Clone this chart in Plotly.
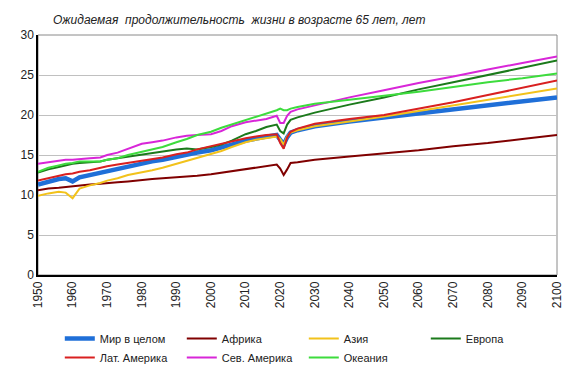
import plotly.graph_objects as go

years = [1950, 1953, 1956, 1958, 1960, 1962, 1965, 1968, 1970, 1973,
         1976, 1980, 1983, 1986, 1990, 1993, 1996, 2000, 2003, 2006,
         2010, 2013, 2016, 2019, 2020, 2021, 2022, 2023, 2025, 2030,
         2040, 2050, 2060, 2070, 2080, 2090, 2100]

world = [11.3, 11.7, 12.0, 12.1, 11.7, 12.2, 12.5, 12.8, 13.0, 13.3,
         13.6, 13.9, 14.2, 14.4, 14.8, 15.0, 15.3, 15.6, 15.9, 16.3,
         16.8, 17.1, 17.3, 17.5, 17.0, 16.3, 17.2, 17.8, 18.1, 18.6,
         19.2, 19.7, 20.2, 20.7, 21.2, 21.7, 22.2]

africa = [10.6, 10.8, 10.9, 11.0, 11.1, 11.2, 11.3, 11.4, 11.5, 11.6,
          11.7, 11.9, 12.0, 12.1, 12.2, 12.3, 12.4, 12.6, 12.8, 13.0,
          13.2, 13.4, 13.6, 13.8, 13.3, 12.5, 13.2, 14.0, 14.1, 14.4,
          14.8, 15.2, 15.6, 16.1, 16.5, 17.0, 17.5]

asia = [9.9, 10.2, 10.4, 10.3, 9.6, 10.8, 11.2, 11.5, 11.8, 12.1,
        12.5, 12.8, 13.1, 13.4, 13.9, 14.2, 14.6, 15.1, 15.5, 16.0,
        16.6, 16.9, 17.1, 17.3, 17.0, 16.3, 17.3, 17.8, 18.1, 18.6,
        19.2, 19.8, 20.5, 21.2, 21.9, 22.6, 23.3]

europe = [12.8, 13.2, 13.5, 13.7, 13.9, 14.0, 14.1, 14.2, 14.4, 14.6,
          14.8, 15.0, 15.2, 15.4, 15.7, 15.8, 15.7, 16.0, 16.3, 16.8,
          17.6, 18.0, 18.5, 18.8, 18.0, 17.7, 18.8, 19.4, 19.7, 20.3,
          21.3, 22.2, 23.2, 24.1, 25.0, 25.9, 26.8]

latam = [11.8, 12.1, 12.4, 12.6, 12.7, 12.9, 13.1, 13.4, 13.6, 13.8,
         14.0, 14.3, 14.5, 14.7, 15.1, 15.3, 15.7, 16.1, 16.4, 16.7,
         17.1, 17.3, 17.5, 17.6, 16.5, 15.8, 17.2, 17.9, 18.3, 18.9,
         19.5, 20.0, 20.8, 21.6, 22.5, 23.4, 24.3]

namerica = [13.9, 14.1, 14.3, 14.4, 14.4, 14.5, 14.6, 14.7, 15.0, 15.3,
            15.8, 16.4, 16.6, 16.8, 17.2, 17.4, 17.5, 17.6, 18.0, 18.6,
            19.1, 19.3, 19.5, 19.9, 19.0, 19.0, 19.9, 20.4, 20.7, 21.2,
            22.2, 23.1, 24.0, 24.8, 25.7, 26.5, 27.3]

oceania = [12.9, 13.4, 13.7, 13.9, 14.0, 14.2, 14.2, 14.2, 14.4, 14.6,
           15.0, 15.4, 15.7, 16.0, 16.6, 17.0, 17.5, 17.9, 18.4, 18.8,
           19.4, 19.8, 20.2, 20.6, 20.8, 20.6, 20.6, 20.8, 21.0, 21.4,
           21.9, 22.4, 22.9, 23.5, 24.1, 24.6, 25.2]

names = ["Мир в целом", "Африка", "Азия", "Европа",
         "Лат. Америка", "Сев. Америка", "Океания"]
series = [world, africa, asia, europe, latam, namerica, oceania]
colors = ["#1f6fd8", "#800000", "#f2c21b", "#1b7a1b",
          "#d92020", "#d826d8", "#3ddc3d"]
widths = [4.5, 2, 2, 2, 2, 2, 2]

x_ticks = list(range(1950, 2101, 10))
y_ticks = [0, 5, 10, 15, 20, 25, 30]

title_text = "Ожидаемая  продолжительность  жизни в возрасте 65 лет, лет"

fig = go.Figure()
for nm, vals, col, w in zip(names, series, colors, widths):
    fig.add_trace(go.Scatter(x=years, y=vals, name=nm, mode="lines",
                             line=dict(color=col, width=w)))

font_family = "Arial, Liberation Sans, sans-serif"

fig.update_layout(
    width=557, height=360,
    margin=dict(l=30, r=8, t=27, b=93, autoexpand=False),
    paper_bgcolor="white", plot_bgcolor="white",
    font=dict(family=font_family, size=12, color="#222222"),
    showlegend=True,
    legend=dict(orientation="h", x=0.042, xanchor="left", y=-0.204, yanchor="top",
                entrywidth=77, entrywidthmode="pixels",
                font=dict(size=11, family=font_family, color="#222222"),
                itemwidth=30, tracegroupgap=0, bgcolor="rgba(0,0,0,0)"),
    annotations=[dict(text=title_text.replace("  ", "\u00a0 "), xref="paper", yref="paper",
                      x=0.025, y=1.0625, xanchor="left", yanchor="middle",
                      showarrow=False,
                      font=dict(size=12, family=font_family, color="#222222",
                                style="italic"))],
    shapes=[dict(type="rect", xref="paper", yref="paper", x0=0, x1=1, y0=0, y1=1,
                 line=dict(color="#8a8a8a", width=1), layer="below")],
)

fig.update_xaxes(range=[1950, 2100], tickvals=x_ticks, ticktext=[str(t) for t in x_ticks],
                 tickangle=-90, showgrid=False, zeroline=False, automargin=False,
                 showline=True, linecolor="black", linewidth=1.5,
                 ticks="", tickfont=dict(size=12, color="#222222"))
fig.update_yaxes(range=[0, 30], tickvals=y_ticks, showgrid=True, gridcolor="#c0c0c0",
                 gridwidth=1, zeroline=False, showline=True, linecolor="black",
                 automargin=False,
                 linewidth=1.5, ticks="", tickfont=dict(size=12, color="#222222"))

fig.write_html("out.html")
